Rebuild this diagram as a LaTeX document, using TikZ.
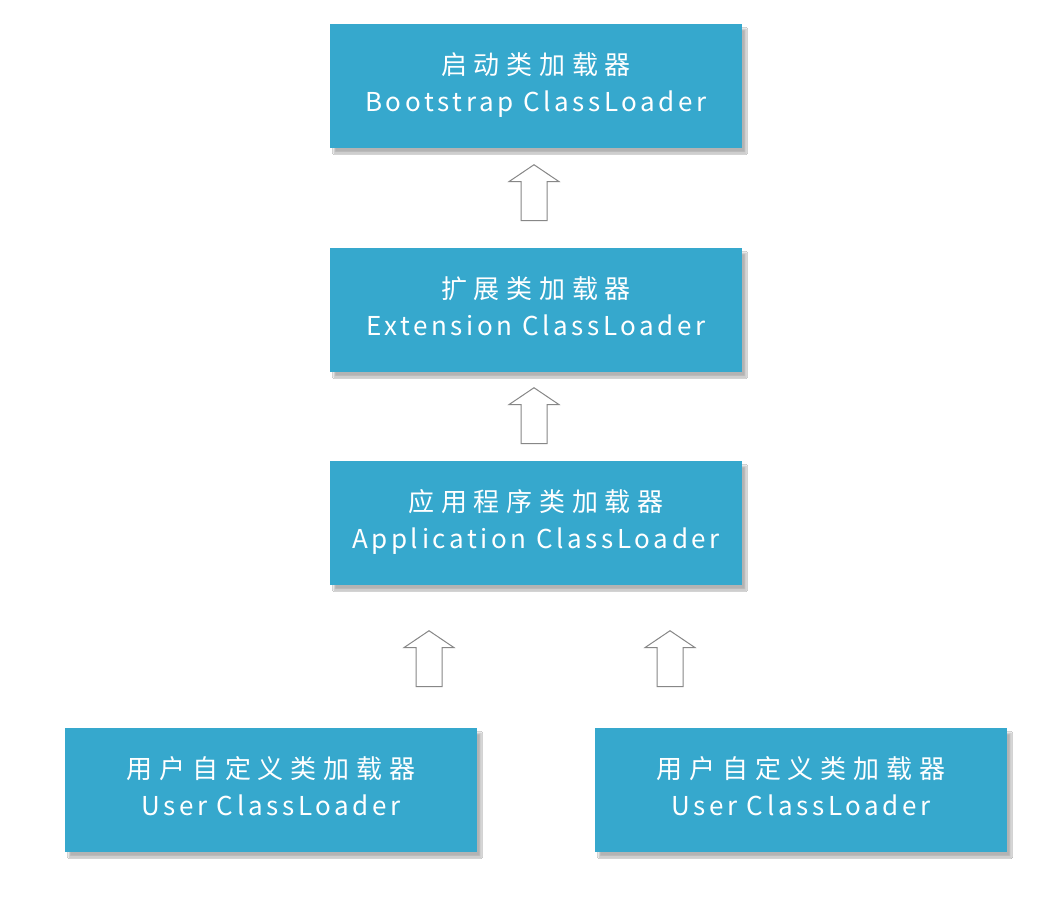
\documentclass[tikz,border=0pt]{standalone}
\usepackage{fontspec}
\newfontfamily\cnfont[LetterSpace=26]{Noto Sans CJK SC}
\newfontfamily\enfont[LetterSpace=14]{Noto Sans CJK SC}
\usetikzlibrary{shapes.arrows,shadows.blur}
\definecolor{loaderblue}{RGB}{54,168,205}
\definecolor{arrowgray}{RGB}{135,135,135}
\begin{document}
\begin{tikzpicture}[x=1pt, y=-1pt]
\tikzset{
    loader/.style={fill=loaderblue, text=white, minimum width=412pt, minimum height=124pt,
        align=center, inner sep=0pt,
        blur shadow={shadow xshift=4pt, shadow yshift=-5pt, shadow opacity=30, shadow blur steps=6}},
    uparrow/.style={single arrow, draw=arrowgray, line width=1pt, fill=white,
        single arrow head extend=12pt, single arrow tip angle=112,
        single arrow head indent=0pt, rotate=90, inner sep=0pt}
}
\newcommand{\loadertext}[2]{{\cnfont\fontsize{26}{30}\selectfont #1}\\[13pt]{\enfont\fontsize{26}{30}\selectfont #2}\\[-4pt]}
\newcommand{\shaft}{\hbox to 46pt{\vrule width 0pt height 12.5pt depth 12.5pt\hfil}}
\useasboundingbox (0,0) rectangle (1061,902);
\fill[white] (0,0) rectangle (1061,902);
% loaders
\node[loader] (boot) at (536,86) {\loadertext{启动类加载器}{Bootstrap ClassLoader}};
\node[loader] (ext) at (536,310) {\loadertext{扩展类加载器}{Extension ClassLoader}};
\node[loader] (app) at (536,523) {\loadertext{应用程序类加载器}{Application ClassLoader}};
\node[loader] (userA) at (271,790) {\loadertext{用户自定义类加载器}{User ClassLoader}};
\node[loader] (userB) at (801,790) {\loadertext{用户自定义类加载器}{User ClassLoader}};
% arrows
\node[uparrow] (toboot) at (534,197) {\shaft};
\node[uparrow] (toext) at (534,420) {\shaft};
\node[uparrow] (toappA) at (429,663) {\shaft};
\node[uparrow] (toappB) at (670,663) {\shaft};
\end{tikzpicture}
\end{document}
